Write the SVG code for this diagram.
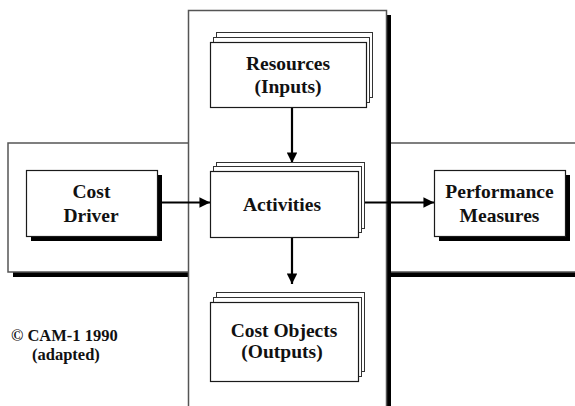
<svg xmlns="http://www.w3.org/2000/svg" width="575" height="406" viewBox="0 0 575 406">
  <style>
    .panel { fill: #ffffff; stroke: #555555; stroke-width: 1.5; }
    .shadow { fill: #000000; }
    .box { fill: #ffffff; stroke: #1a1a1a; stroke-width: 1.2; }
    .stack { fill: #ffffff; stroke: #333333; stroke-width: 1; }
    .label { font-family: "Liberation Serif", "Times New Roman", serif; font-weight: bold; font-size: 19.5px; fill: #111111; text-anchor: middle; }
    .note { font-family: "Liberation Serif", "Times New Roman", serif; font-weight: bold; font-size: 16.5px; fill: #111111; }
    .conn { stroke: #000000; stroke-width: 2.2; fill: none; }
  </style>
  <defs>
    <marker id="arrow" viewBox="0 0 10 10" refX="10" refY="5" markerWidth="4.8" markerHeight="4.8" markerUnits="strokeWidth" orient="auto">
      <path d="M0,0 L10,5 L0,10 Z" fill="#000000"/>
    </marker>
  </defs>

  <rect width="575" height="406" fill="#ffffff"/>

  <!-- horizontal band -->
  <g id="band-horizontal">
    <rect class="shadow" x="13" y="148" width="580" height="129"/>
    <rect class="panel" x="8" y="143" width="580" height="129"/>
  </g>

  <!-- vertical band -->
  <g id="band-vertical">
    <rect class="shadow" x="193" y="15" width="198" height="400"/>
    <rect class="panel" x="188.5" y="10.5" width="198" height="410"/>
  </g>

  <!-- connectors -->
  <g id="connectors">
    <line class="conn" x1="292" y1="108" x2="292" y2="163" marker-end="url(#arrow)"/>
    <line class="conn" x1="160" y1="202.5" x2="210" y2="202.5" marker-end="url(#arrow)"/>
    <line class="conn" x1="355" y1="202.5" x2="434" y2="202.5" marker-end="url(#arrow)"/>
    <line class="conn" x1="292" y1="238" x2="292" y2="284" marker-end="url(#arrow)"/>
  </g>

  <!-- Resources (Inputs) -->
  <g id="node-resources">
    <rect class="stack" x="216.5" y="32.5" width="156" height="65"/>
    <rect class="stack" x="213.5" y="37.5" width="156" height="65"/>
    <rect class="box" x="210.5" y="42.5" width="156" height="65"/>
    <text class="label" x="288" y="70">Resources</text>
    <text class="label" x="288" y="93">(Inputs)</text>
  </g>

  <!-- Activities -->
  <g id="node-activities">
    <rect class="stack" x="216.5" y="162.5" width="148" height="66"/>
    <rect class="stack" x="213.5" y="166.5" width="148" height="66"/>
    <rect class="box" x="210.5" y="171.5" width="148" height="66"/>
    <text class="label" x="282" y="211">Activities</text>
  </g>

  <!-- Cost Objects (Outputs) -->
  <g id="node-cost-objects">
    <rect class="stack" x="216.5" y="292.5" width="148" height="79"/>
    <rect class="stack" x="213.5" y="297.5" width="148" height="79"/>
    <rect class="box" x="210.5" y="302.5" width="148" height="79"/>
    <text class="label" x="284" y="337">Cost Objects</text>
    <text class="label" x="282" y="358">(Outputs)</text>
  </g>

  <!-- Cost Driver -->
  <g id="node-cost-driver">
    <rect class="shadow" x="31" y="175" width="131" height="66"/>
    <rect class="box" x="26.5" y="170.5" width="131" height="66"/>
    <text class="label" x="91.5" y="198">Cost</text>
    <text class="label" x="91" y="222">Driver</text>
  </g>

  <!-- Performance Measures -->
  <g id="node-performance">
    <rect class="shadow" x="439" y="175" width="131" height="66"/>
    <rect class="box" x="434.5" y="170.5" width="131" height="66"/>
    <text class="label" x="499.5" y="197.5">Performance</text>
    <text class="label" x="499.5" y="221.5">Measures</text>
  </g>

  <!-- source note -->
  <g id="note">
    <text class="note" x="11" y="341">© CAM-1 1990</text>
    <text class="note" x="32" y="360">(adapted)</text>
  </g>
</svg>
